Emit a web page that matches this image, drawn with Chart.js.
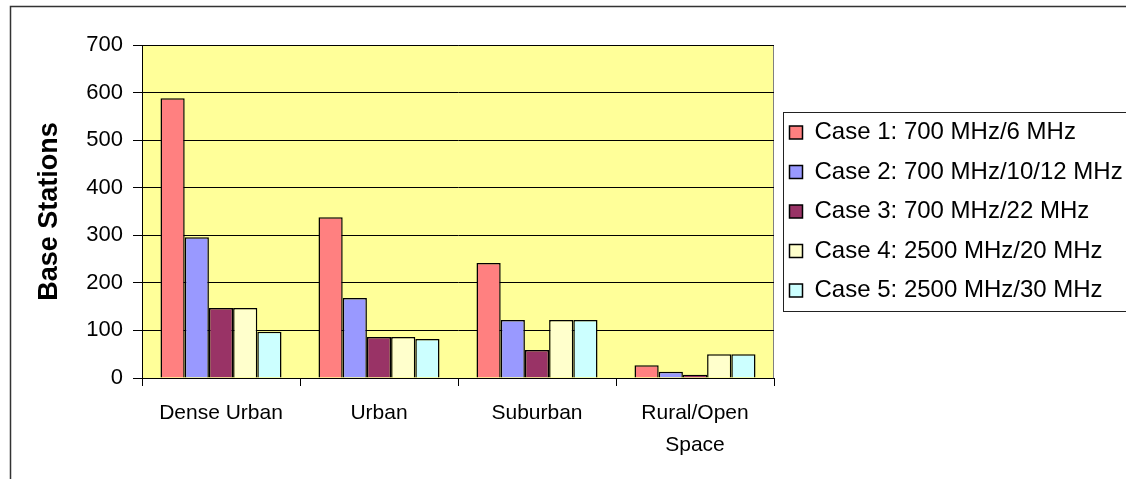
<!DOCTYPE html>
<html>
<head>
<meta charset="utf-8">
<script src="https://cdn.jsdelivr.net/npm/chart.js@4.4.1/dist/chart.umd.min.js"></script>
<style>
  html, body { margin: 0; padding: 0; background: #fff; overflow: hidden; }
  #wrap { position: relative; width: 1126px; height: 479px; }
</style>
</head>
<body>
<div id="wrap"><canvas id="baseChart" width="1126" height="479"></canvas></div>
<script>
// data
const categories = [['Dense Urban'], ['Urban'], ['Suburban'], ['Rural/Open', 'Space']];
const seriesNames = ['Case 1: 700 MHz/6 MHz', 'Case 2: 700 MHz/10/12 MHz', 'Case 3: 700 MHz/22 MHz',
                     'Case 4: 2500 MHz/20 MHz', 'Case 5: 2500 MHz/30 MHz'];
const case1 = [588, 338, 242, 27];
const case2 = [296, 168, 122, 13];
const case3 = [147, 86, 59, 7];
const case4 = [147, 86, 122, 50];
const case5 = [97, 82, 122, 50];
const yTicks = [0, 100, 200, 300, 400, 500, 600, 700];

const colors = ['#FF8080', '#9999FF', '#993366', '#FFFFCC', '#CCFFFF'];
const series = [case1, case2, case3, case4, case5];

const PLOT_RIGHT = 774;

// yellow plot area, outer frame and legend frame
const framePlugin = {
    id: 'frames',
    beforeDraw(chart) {
        const ctx = chart.ctx;
        const a = chart.chartArea;
        ctx.save();
        ctx.fillStyle = '#FFFF99';
        ctx.fillRect(a.left, a.top, a.right - a.left, a.bottom - a.top);
        ctx.strokeStyle = '#808080';
        ctx.lineWidth = 1;
        ctx.strokeRect(a.left + 0.5, a.top + 0.5, a.right - a.left - 1, a.bottom - a.top);
        ctx.strokeStyle = '#333';
        ctx.lineWidth = 1.5;
        ctx.strokeRect(10.5, 6.5, 1300, 600);
        ctx.restore();
    },
    afterDraw(chart) {
        const boxes = chart.legend.legendHitBoxes;
        if (!boxes || !boxes.length) return;
        const ctx = chart.ctx;
        const top = boxes[0].top - 9;
        const bottom = boxes[boxes.length - 1].top + boxes[boxes.length - 1].height + 8;
        const left = 783;
        ctx.save();
        ctx.strokeStyle = '#222';
        ctx.lineWidth = 1;
        ctx.strokeRect(left + 0.5, Math.round(top) + 0.5, 1200, Math.round(bottom - top));
        ctx.restore();
    }
};

const ctx = document.getElementById('baseChart').getContext('2d');
new Chart(ctx, {
    type: 'bar',
    data: {
        labels: categories,
        datasets: series.map((vals, i) => ({
            label: seriesNames[i],
            data: vals,
            backgroundColor: colors[i],
            borderColor: '#000',
            borderWidth: 1.5,
            borderSkipped: 'bottom',
            barPercentage: 1,
            categoryPercentage: 0.766
        }))
    },
    options: {
        responsive: false,
        animation: false,
        devicePixelRatio: 1,
        layout: { padding: { top: 45, right: 0, bottom: 0, left: 0 } },
        plugins: {
            tooltip: { enabled: false },
            legend: {
                position: 'right',
                align: 'center',
                fullSize: false,
                maxWidth: 1126 - PLOT_RIGHT,
                labels: {
                    color: '#000',
                    font: { family: 'Liberation Sans, Arial, sans-serif', size: 24 },
                    boxWidth: 13,
                    boxHeight: 13,
                    padding: 15.5
                }
            }
        },
        scales: {
            x: {
                grid: { display: true, drawOnChartArea: false, drawTicks: true, tickLength: 8, color: '#000', offset: true },
                border: { color: '#000' },
                ticks: {
                    color: '#000',
                    padding: 11,
                    maxRotation: 0,
                    autoSkip: false,
                    font: { family: 'Liberation Sans, Arial, sans-serif', size: 21, lineHeight: '32px' }
                },
                afterFit: s => { s.height = 101; }
            },
            y: {
                position: 'left',
                min: 0,
                max: 700,
                afterBuildTicks: s => { s.ticks = yTicks.map(v => ({ value: v })); },
                grid: { color: '#000', tickLength: 9 },
                border: { color: '#000' },
                ticks: {
                    color: '#000',
                    padding: 10,
                    font: { family: 'Liberation Sans, Arial, sans-serif', size: 22 }
                },
                title: {
                    display: true,
                    text: 'Base Stations',
                    color: '#000',
                    padding: { top: 33, bottom: 0 },
                    font: { family: 'Liberation Sans, Arial, sans-serif', size: 27, weight: 'bold' }
                },
                afterFit: s => { s.width = 142; }
            }
        }
    },
    plugins: [framePlugin]
});
</script>
</body>
</html>
